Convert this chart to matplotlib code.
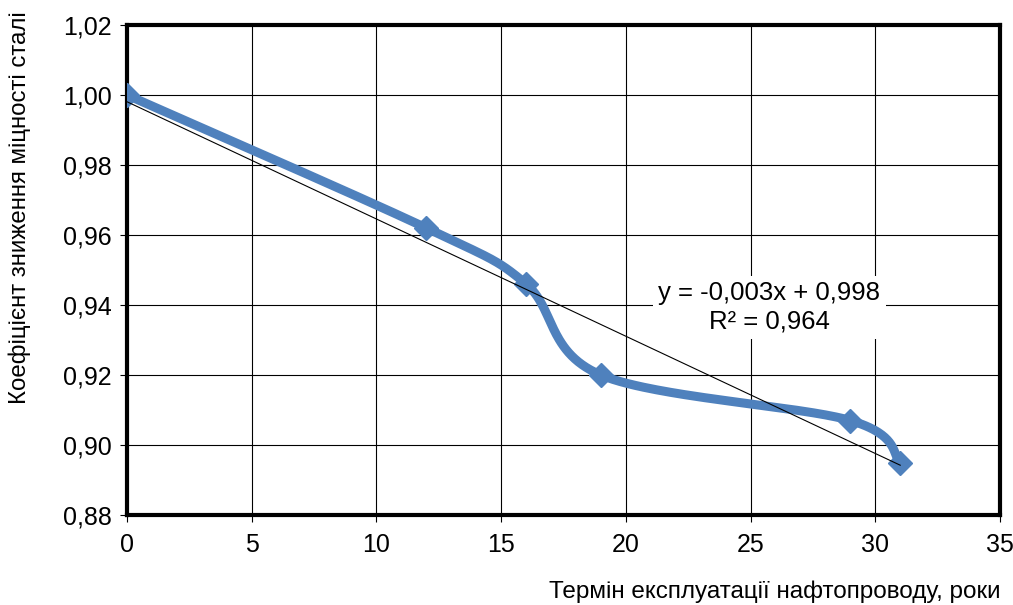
import numpy as np
import matplotlib
matplotlib.use("Agg")
import matplotlib.pyplot as plt
from matplotlib.ticker import FuncFormatter

years = [0, 12, 16, 19, 29, 31]
coef = [1.000, 0.962, 0.946, 0.920, 0.907, 0.895]
x_ticks = [0, 5, 10, 15, 20, 25, 30, 35]
y_ticks = [0.88, 0.90, 0.92, 0.94, 0.96, 0.98, 1.00, 1.02]
eq_text = "y = -0,003x + 0,998\nR² = 0,964"
xlabel = "Термін експлуатації нафтопроводу, роки"
ylabel = "Коефіцієнт зниження міцності сталі"

plt.rcParams['font.family'] = ['Liberation Sans', 'DejaVu Sans']

def excel_smooth(xs, ys, n=60):
    P = np.column_stack([xs, ys]).astype(float)
    pts = [P[0]]
    for i in range(len(P) - 1):
        p0 = P[i - 1] if i > 0 else P[i]
        p1 = P[i]
        p2 = P[i + 1]
        p3 = P[i + 2] if i + 2 < len(P) else P[i + 1]
        c1 = p1 + (p2 - p0) / 6.0
        c2 = p2 - (p3 - p1) / 6.0
        t = np.linspace(0, 1, n)[1:, None]
        seg = ((1 - t) ** 3) * p1 + 3 * ((1 - t) ** 2) * t * c1 + 3 * (1 - t) * t ** 2 * c2 + t ** 3 * p2
        pts.extend(seg)
    pts = np.array(pts)
    return pts[:, 0], pts[:, 1]

fig = plt.figure(figsize=(10.13, 6.05), dpi=100)
ax = fig.add_axes([127 / 1013, 90 / 605, 873 / 1013, 490 / 605])

blue = '#4F81BD'
sx, sy = excel_smooth(years, coef)
ax.plot(sx, sy, color=blue, lw=6.5, solid_capstyle='round', zorder=3)
ax.plot(years, coef, linestyle='none', marker='D', markersize=12.5, color=blue, zorder=4)

slope, intercept = np.polyfit(years, coef, 1)
tx = np.array([years[0], years[-1]])
ax.plot(tx, slope * tx + intercept, color='black', lw=0.8, zorder=5)

ax.text(25.75, 0.9393, eq_text, ha='center', va='center', fontsize=18.5,
        linespacing=1.22, zorder=6,
        bbox=dict(facecolor='white', edgecolor='none', pad=4))

ax.set_xlim(0, 35)
ax.set_ylim(0.88, 1.02)
ax.set_xticks(x_ticks)
ax.set_yticks(y_ticks)
ax.yaxis.set_major_formatter(FuncFormatter(lambda v, p: f"{v:.2f}".replace('.', ',')))
ax.grid(True, color='black', lw=0.8)
ax.set_axisbelow(True)
for s in ax.spines.values():
    s.set_linewidth(3)
    s.set_color('black')
ax.tick_params(direction='out', length=5, width=0.8, labelsize=18)
ax.tick_params(axis='x', pad=8)
ax.tick_params(axis='y', pad=6)

fig.text(1000 / 1013, 1 - 592 / 605, xlabel, ha='right', va='center', fontsize=17.5)
fig.text(20 / 1013, 1 - 208 / 605, ylabel, ha='center', va='center', rotation=90, fontsize=17.3)

fig.savefig('out.png', dpi=100)
